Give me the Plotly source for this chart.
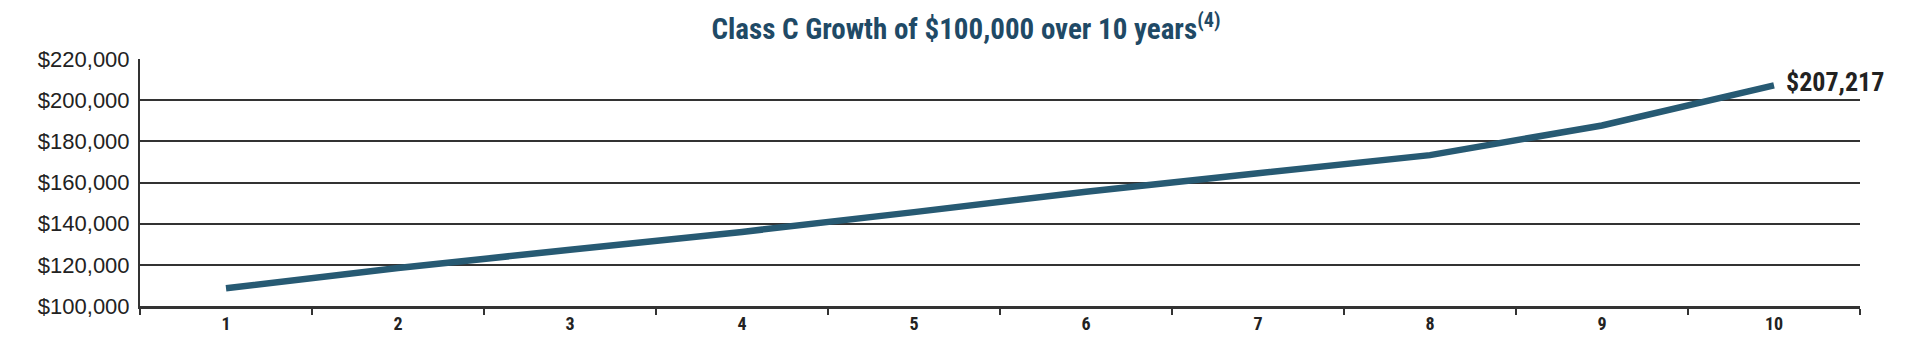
import plotly.graph_objects as go

years = ["1", "2", "3", "4", "5", "6", "7", "8", "9", "10"]
values = [108600, 118500, 127300, 136000, 145600, 155500, 164500, 173300, 187700, 207217]
y_ticks = [100000, 120000, 140000, 160000, 180000, 200000, 220000]

title_text = "Class C Growth of $100,000 over 10 years<sup>(4)</sup>"
COND = "'Roboto Condensed', 'Open Sans Condensed', sans-serif"
SANS = "'Liberation Sans', Arial, sans-serif"

fig = go.Figure()
fig.add_trace(go.Scatter(
    x=years, y=values, mode="lines",
    line=dict(color="#275a73", width=6.5),
    hoverinfo="skip", showlegend=False,
))

fig.add_annotation(
    x=len(years) - 1, y=values[-1], xref="x", yref="y",
    text=f"${values[-1]:,.0f}",
    showarrow=False, xanchor="left", yanchor="middle", xshift=10, yshift=3,
    font=dict(family=COND, size=26, color="#222222", weight="bold"),
)

fig.update_layout(
    width=1932, height=346,
    margin=dict(l=140, r=72, t=59, b=40),
    paper_bgcolor="white", plot_bgcolor="white",
    title=dict(
        text=title_text, x=0.5, xanchor="center",
        y=1 - 29 / 346, yanchor="middle",
        font=dict(family=COND, size=29, color="#1f4a66", weight="bold"),
    ),
    xaxis=dict(
        type="category", categoryorder="array", categoryarray=years,
        tickson="boundaries", ticks="outside", ticklen=6, tickwidth=2, tickcolor="#333333",
        showline=True, linecolor="#333333", linewidth=2.5,
        showgrid=False, zeroline=False,
        tickfont=dict(family=COND, size=18, color="#222222", weight="bold"),
        range=[-0.5, 9.5],
    ),
    yaxis=dict(
        range=[100000, 220000], tickvals=y_ticks,
        ticktext=[f"${v:,.0f}" for v in y_ticks],
        showline=True, linecolor="#333333", linewidth=2,
        showgrid=True, gridcolor="#333333", gridwidth=1.5,
        zeroline=False, ticks="", ticklabelstandoff=4,
        tickfont=dict(family=SANS, size=22, color="#222222"),
    ),
)

fig.write_html("out.html")
